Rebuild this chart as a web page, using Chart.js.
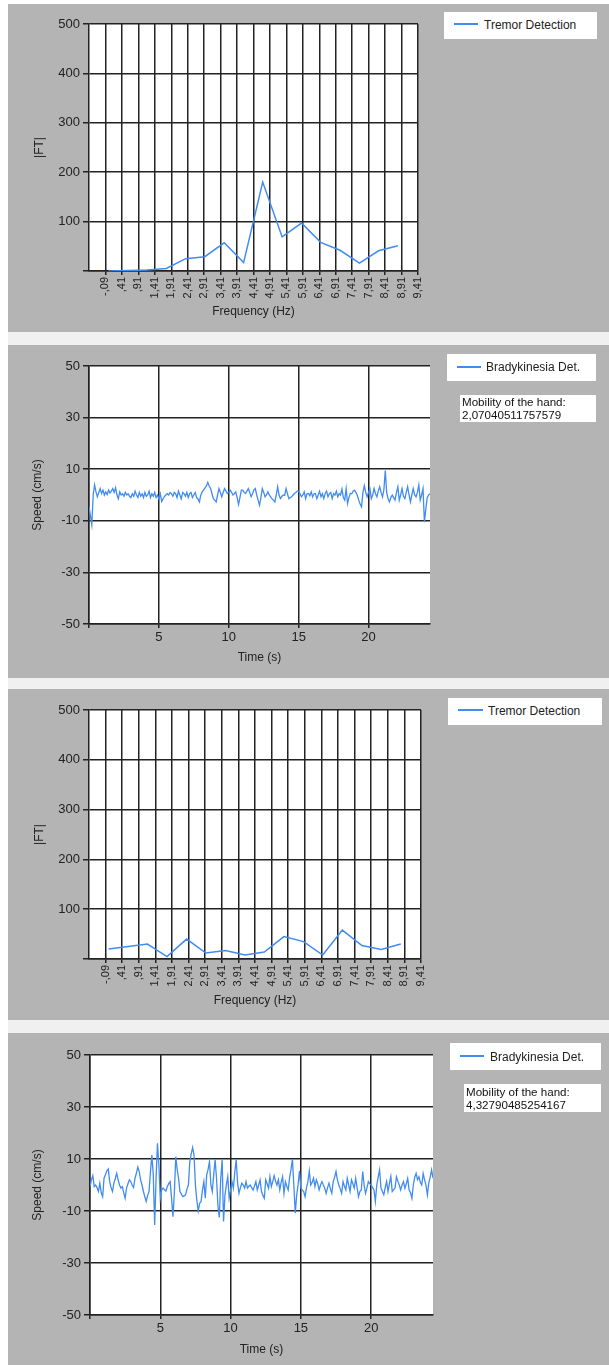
<!DOCTYPE html>
<html>
<head>
<meta charset="utf-8">
<script src="https://cdn.jsdelivr.net/npm/chart.js@4.4.1/dist/chart.umd.min.js"></script>
<style>
  body { margin: 0; width: 609px; height: 1365px; position: relative; overflow: hidden; background: #fff;
         font-family: 'Liberation Sans', Arial, sans-serif; }
  #back { position: absolute; left: 8px; top: 4px; width: 601px; height: 1361px; background: #f0f0f0; }
  .panel { position: absolute; left: 8px; width: 601px; background: #b4b4b4; }
  .box { position: absolute; background: #fff; }
  .swatch { position: absolute; height: 2px; background: rgb(65,140,240); }
  .txt { position: absolute; font-size: 12px; line-height: 14px; color: #222; white-space: nowrap; }
  .mob { position: absolute; font-size: 11.6px; line-height: 13px; color: #111; white-space: nowrap; }
</style>
</head>
<body>
<div id="back"></div>

<div class="panel" style="top:4px;height:328px"><canvas id="tremor1"></canvas></div>
<div class="panel" style="top:345px;height:333px"><canvas id="brady1"></canvas></div>
<div class="panel" style="top:689px;height:331px"><canvas id="tremor2"></canvas></div>
<div class="panel" style="top:1033px;height:332px"><canvas id="brady2"></canvas></div>

<!-- legends -->
<div class="box" style="left:444px;top:12px;width:153px;height:27px"></div>
<div class="swatch" style="left:454px;top:23px;width:24px"></div>
<div class="txt" style="left:484px;top:18px">Tremor Detection</div>

<div class="box" style="left:447px;top:354px;width:149px;height:27px"></div>
<div class="swatch" style="left:457px;top:366px;width:24px"></div>
<div class="txt" style="left:486px;top:360px">Bradykinesia Det.</div>
<div class="box" style="left:460px;top:395px;width:136px;height:27px"></div>
<div class="mob" style="left:462px;top:395px">Mobility of the hand:<br>2,07040511757579</div>

<div class="box" style="left:448px;top:698px;width:154px;height:27px"></div>
<div class="swatch" style="left:458px;top:709px;width:25px"></div>
<div class="txt" style="left:488px;top:704px">Tremor Detection</div>

<div class="box" style="left:450px;top:1043px;width:151px;height:27px"></div>
<div class="swatch" style="left:460px;top:1055px;width:24px"></div>
<div class="txt" style="left:490px;top:1050px">Bradykinesia Det.</div>
<div class="box" style="left:464px;top:1084px;width:137px;height:28px"></div>
<div class="mob" style="left:466px;top:1085px">Mobility of the hand:<br>4,32790485254167</div>

<script>
// frequency bins of the FFT (Hz)
const FREQ_BINS = [0, 0.59, 1.17, 1.76, 2.35, 2.93, 3.52, 4.11, 4.69, 5.28, 5.87, 6.45, 7.04, 7.63, 8.21, 8.80];
const TREMOR_1 = [0, 1, 2, 5, 25, 29, 57, 17, 180, 69, 97, 58, 42, 16, 41, 51];
const TREMOR_2 = [20, 25, 30, 5, 40, 12, 17, 8, 14, 45, 35, 8, 58, 27, 19, 30];

const FREQ_TICKS = [-0.09, 0.41, 0.91, 1.41, 1.91, 2.41, 2.91, 3.41, 3.91, 4.41, 4.91, 5.41, 5.91, 6.41, 6.91, 7.41, 7.91, 8.41, 8.91, 9.41];
const FREQ_TICK_LABELS = ['-,09', ',41', ',91', '1,41', '1,91', '2,41', '2,91', '3,41', '3,91', '4,41', '4,91', '5,41', '5,91', '6,41', '6,91', '7,41', '7,91', '8,41', '8,91', '9,41'];
const FT_TICKS = [0, 100, 200, 300, 400, 500];

// speed samples every 0.1 s, 0 .. 24.4 s
const SAMPLE_DT = 0.1;
const BRADY_1 = [
  -4.6, -8, -11.5, 0, 3.9, 1.2, -0.7, 1, 2.5, 0.6,
  1.9, 0, 1.2, 0.2, 1.9, 0.8, 1.5, 2.5, 1, 2.8,
  0, -1.4, 1.2, 0, 0.5, -0.5, 1, 0, 0.5, -0.5,
  -1, 0.5, -0.5, 1.5, 0, -1, 1, -0.5, 0.5, -1,
  1, -0.5, 0, 1.5, -1, 0.5, -0.5, 1, -1, 0,
  -1.5, 0.5, -2.5, -1.5, -0.5, 0, 0.5, 0, 1, 0.5,
  -0.5, 1, 0.5, -1, 1.5, 0, -1.5, 1, 0.5, -0.5,
  1, -1, 0.5, 1, -1, 0, 1, -1, -1.5, -2.7,
  0, 1.2, 2, 2.8, 3.5, 4.9, 3.5, 2.5, 0.5, -1.4,
  -2, -2.7, 0, 2.5, 1, -0.7, 1, 2.5, 1.5, 0.6,
  1, 1.9, 1, 0, 0.5, 1.2, -1, -3.7, -1, 1.9,
  1.9, 1, 0.6, 1.5, 2.5, 1, -0.7, 0.5, 2, 2.5,
  0, -2, -4, -1, 2.5, 1, -0.7, 0, 1.2, 0,
  -0.7, -1.5, -2, -2.7, 0, 3.2, 0, -1.4, -0.5, -0.1,
  -0.1, 2.5, 0.5, -1.4, -1, -0.7, 0, 0.6, 1, 1.5,
  1.5, 0.5, -0.7, 0, 1.2, -1.4, 0.5, 0.6, -0.3, 1.2,
  -0.7, 0.5, 0.6, -1.4, 0, 1.5, -0.7, 0.5, -1.4, 0.6,
  1.5, -0.7, 0.5, 1, -1.4, 0.5, 0, 1.5, -0.7, 0.5,
  0, 2.3, -1, -2, 2.5, -3.3, -1, 0.6, 0.5, 1.5,
  1.9, 1, -0.1, -2, -3.5, -4.6, 1, 3.6, 1, -0.7,
  1, 2.5, -1.4, 0, 2.5, 0.5, -0.7, 1.5, 3.2, 1,
  -0.7, 2, 9.5, 1, -1.5, -2.7, -1, 0, -1, -2,
  1, 3.2, -2, 0, 2.5, -0.5, -1.4, 1, 3.2, 0,
  -2.7, 0, 2.5, 0, -0.7, 1, 3.9, -2, 0, 2.5,
  -10.5, -5.5, -1, 0, 0.5
];
const BRADY_2 = [
  -0.6, 2, 3.6, -0.6, 0, -1, -2.5, 0.7, -3, -4.5,
  2.6, 4, 5.5, 6.2, 1.3, -1, -2.5, 0.7, 2.5, 4.5,
  2, 0, -1.2, -0.6, -3, -5.1, -1.2, 0.5, 2, 1.3,
  0, -1, 2.6, 4.5, 6.9, 5.2, 2, 0, -2.5, -4.5,
  -6.3, -4, -2.5, 5, 11.5, 4, -15.4, 2.6, 16, 7.7,
  -5.1, -1.9, -1.2, -1.8, -2.3, -0.6, 0.5, 1.3, -5, -12.2,
  -3.2, 10.9, 6, 2.6, -2.5, -3.5, -4.5, -4.2, -3.8, -1.5,
  0, 9, 12, 14.4, 11.5, 0, -6, -10, -7, -6.4,
  -2, 1.3, -5.1, 3.8, 6, 9, 0, -2.5, 4, 9.7,
  2.6, -8, -12.5, 2.6, 9.7, -14, -4, 0, 3.2, -5.1,
  -2, 1.3, -1.2, 5, 9.7, 0.7, -3.2, -1, 0.7, 0,
  -1.2, 1.3, -1.2, -0.5, 0, -1, -1.9, -0.5, 1.3, -1.9,
  0, 2, -2.5, -4, -5.1, 2, 0.5, -1.2, 3.2, -0.6,
  1.3, 3.6, 1.5, 0, 2, -1.9, 1, 3.2, -3.2, 1.3,
  -0.5, -1.9, 2.9, 6, 10, 0, -10.8, -4, 0, 5.4,
  -1.2, -2, -2.5, -4.5, -1, 1.3, 5.4, 0, 1, 2.6,
  -0.6, 2, 0.5, -1.9, 0, 1.3, 0, -1.2, -3.2, -1,
  0.7, -1.5, -3.2, 1.3, 3, 5.2, 2, 0, -1.5, -3.2,
  1.3, -0.5, -1.9, 2.6, 0, -2.5, 2, 0.5, -1.2, 2.6,
  -1, -4.5, -2.5, -1.9, 5.2, 0, -3.2, -1.2, 1.3, 0.5,
  0, -1, -1.9, -6.3, 0, 3, 5.8, -1.2, -2.5, -3.8,
  -1, 1.3, -2.5, 0.5, 3.3, -2.5, -1.8, -1.2, 3.2, 1.5,
  0, -1.9, 0, 1.3, -1.2, 0.5, 2.6, -1.9, -3, -5.1,
  0, 3, 4.5, 2, 3.2, 1, 0, 4.5, 2, 0,
  -3.8, 0.7, 3, 5.8, 2.6
];
const TIME_TICKS = [0, 5, 10, 15, 20];
const SPEED_TICKS = [-50, -30, -10, 10, 30, 50];

const LINE_COLOR = 'rgb(65,140,240)';
const GRID = '#222';
const TEXT = '#222';

Chart.defaults.font.family = "'Liberation Sans', Arial, sans-serif";

// white plot area
const plotBg = {
  id: 'plotBg',
  beforeDraw(chart) {
    const a = chart.chartArea, ctx = chart.ctx;
    ctx.save();
    ctx.fillStyle = '#fff';
    ctx.fillRect(a.left, a.top, a.right - a.left, a.bottom - a.top);
    ctx.restore();
  }
};

function tremorChart(id, values, box) {
  new Chart(document.getElementById(id), {
    type: 'line',
    data: {
      datasets: [{
        label: 'Tremor Detection',
        data: FREQ_BINS.map((f, i) => ({ x: f, y: values[i] })),
        borderColor: LINE_COLOR,
        borderWidth: 1.5,
        pointRadius: 0,
        tension: 0
      }]
    },
    options: {
      responsive: true,
      maintainAspectRatio: false,
      animation: false,
      layout: { padding: { left: 0, top: box.top, right: box.right, bottom: 0 } },
      plugins: { legend: { display: false }, tooltip: { enabled: false } },
      scales: {
        x: {
          type: 'linear', min: -0.59, max: 9.41,
          afterBuildTicks: s => { s.ticks = FREQ_TICKS.map(v => ({ value: v })); },
          afterFit: s => { s.height = box.xh; },
          ticks: { autoSkip: false, minRotation: 90, maxRotation: 90, padding: 2, color: TEXT,
                   font: { size: 11 }, callback: (v, i) => FREQ_TICK_LABELS[i] },
          grid: { color: GRID, lineWidth: 1.5, tickLength: 4 },
          border: { color: GRID, width: 1.5 },
          title: { display: true, text: 'Frequency (Hz)', color: TEXT, font: { size: 12 },
                   padding: { top: 0, bottom: box.tb } }
        },
        y: {
          min: 0, max: 500,
          afterBuildTicks: s => { s.ticks = FT_TICKS.map(v => ({ value: v })); },
          afterFit: s => { s.width = box.yw; },
          ticks: { padding: 3, color: TEXT, font: { size: 13 }, callback: v => v === 0 ? '' : v },
          grid: { color: GRID, lineWidth: 1.5, tickLength: 6 },
          border: { color: GRID, width: 1.5 },
          title: { display: true, text: '|FT|', color: TEXT, font: { size: 12 },
                   padding: { top: box.tl, bottom: 0 } }
        }
      }
    },
    plugins: [plotBg]
  });
}

function bradyChart(id, values, box) {
  new Chart(document.getElementById(id), {
    type: 'line',
    data: {
      datasets: [{
        label: 'Bradykinesia Det.',
        data: values.map((v, i) => ({ x: i * SAMPLE_DT, y: v })),
        borderColor: LINE_COLOR,
        borderWidth: 1.3,
        pointRadius: 0,
        tension: 0
      }]
    },
    options: {
      responsive: true,
      maintainAspectRatio: false,
      animation: false,
      layout: { padding: { left: 0, top: box.top, right: box.right, bottom: 0 } },
      plugins: { legend: { display: false }, tooltip: { enabled: false } },
      scales: {
        x: {
          type: 'linear', min: 0, max: 24.4,
          afterBuildTicks: s => { s.ticks = TIME_TICKS.map(v => ({ value: v })); },
          afterFit: s => { s.height = box.xh; },
          ticks: { autoSkip: false, maxRotation: 0, padding: 2, color: TEXT, font: { size: 13 },
                   callback: v => v === 0 ? '' : v },
          grid: { color: GRID, lineWidth: 1.5, tickLength: 4 },
          border: { color: GRID, width: 1.5 },
          title: { display: true, text: 'Time (s)', color: TEXT, font: { size: 12 },
                   padding: { top: 0, bottom: box.tb } }
        },
        y: {
          min: -50, max: 50,
          afterBuildTicks: s => { s.ticks = SPEED_TICKS.map(v => ({ value: v })); },
          afterFit: s => { s.width = box.yw; },
          ticks: { padding: 3, color: TEXT, font: { size: 13 } },
          grid: { color: GRID, lineWidth: 1.5, tickLength: 6 },
          border: { color: GRID, width: 1.5 },
          title: { display: true, text: 'Speed (cm/s)', color: TEXT, font: { size: 12 },
                   padding: { top: box.tl, bottom: 0 } }
        }
      }
    },
    plugins: [plotBg]
  });
}

tremorChart('tremor1', TREMOR_1, { top: 20, right: 191, xh: 61, yw: 81, tb: 13, tl: 24 });
bradyChart('brady1', BRADY_1, { top: 21, right: 179, xh: 54, yw: 81, tb: 13, tl: 22 });
tremorChart('tremor2', TREMOR_2, { top: 21, right: 188, xh: 61, yw: 81, tb: 12, tl: 24 });
bradyChart('brady2', BRADY_2, { top: 22, right: 176, xh: 50, yw: 82, tb: 8, tl: 22 });
</script>
</body>
</html>
